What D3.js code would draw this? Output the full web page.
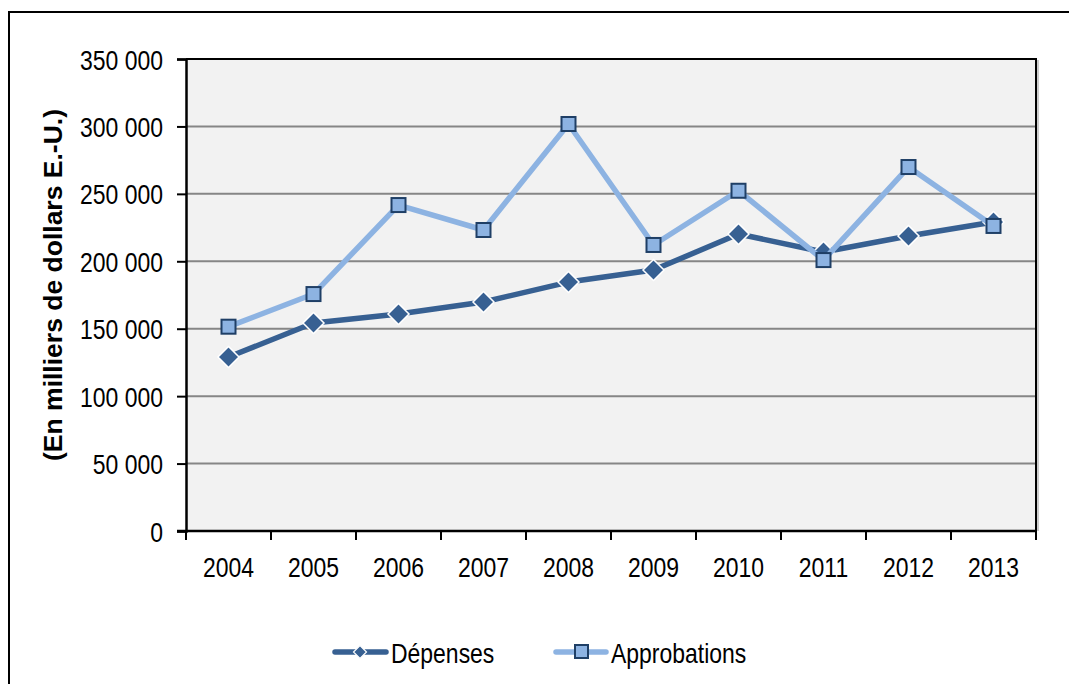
<!DOCTYPE html>
<html>
<head>
<meta charset="utf-8">
<script src="https://cdn.jsdelivr.net/npm/d3@7"></script>
<style>
  html, body { margin: 0; padding: 0; background: #ffffff; }
  svg { display: block; }
  text { font-family: "Liberation Sans", Arial, sans-serif; }
</style>
</head>
<body>
<svg id="chart" width="1069" height="684"></svg>
<script>
// Years on the category axis
const years = ["2004", "2005", "2006", "2007", "2008", "2009", "2010", "2011", "2012", "2013"];
// Expenditures (thousands of US dollars)
const depenses = [129000, 154200, 160900, 169800, 184600, 193500, 220200, 206900, 218700, 229100];
// Approvals (thousands of US dollars)
const approbations = [151500, 175700, 241700, 223200, 301800, 212100, 252300, 200900, 269900, 226200];
// Value axis ticks
const yTicks = [0, 50000, 100000, 150000, 200000, 250000, 300000, 350000];
const seriesNames = ["Dépenses", "Approbations"];

const svg = d3.select("#chart");
const W = 1069, H = 684;
const plot = { left: 186, top: 59, right: 1036, bottom: 531 };

const darkBlue = "#376092";
const lightBlue = "#8db3e2";
const navy = "#1f3f66";
const NARROW = 0.82;   // horizontal squeeze for a condensed look
const FS = 28;

// Outer frame (runs off the right and bottom of the canvas)
svg.append("path")
  .attr("d", `M9,${H + 5} L9,12 L${W + 5},12`)
  .attr("fill", "none").attr("stroke", "#000").attr("stroke-width", 2);

const x = d3.scaleBand().domain(years).range([plot.left, plot.right]).paddingInner(0).paddingOuter(0);
const y = d3.scaleLinear().domain([0, 350000]).range([plot.bottom, plot.top]);

// Plot background
svg.append("rect")
  .attr("x", plot.left).attr("y", plot.top)
  .attr("width", plot.right - plot.left).attr("height", plot.bottom - plot.top)
  .attr("fill", "#f2f2f2");

// Horizontal gridlines
svg.append("g")
  .selectAll("line")
  .data(yTicks.filter(v => v > 0 && v < 350000))
  .join("line")
  .attr("x1", plot.left).attr("x2", plot.right)
  .attr("y1", d => y(d)).attr("y2", d => y(d))
  .attr("stroke", "#868686").attr("stroke-width", 2);

// Plot border (top and right)
svg.append("path")
  .attr("d", `M${plot.left},${plot.top} L${plot.right},${plot.top} L${plot.right},${plot.bottom}`)
  .attr("fill", "none").attr("stroke", "#000").attr("stroke-width", 2);
svg.append("line")
  .attr("x1", plot.right + 2).attr("x2", plot.right + 2)
  .attr("y1", plot.top + 1).attr("y2", plot.bottom)
  .attr("stroke", "#9a9a9a").attr("stroke-width", 1);

// Y axis
const yAxis = d3.axisLeft(y)
  .tickValues(yTicks)
  .tickSize(9)
  .tickFormat(d => d3.format(",")(d).replace(/,/g, " "));
const gy = svg.append("g")
  .attr("transform", `translate(${plot.left},0)`)
  .call(yAxis);
gy.select(".domain").attr("stroke", "#000").attr("stroke-width", 2.5);
gy.selectAll(".tick line").attr("stroke", "#000").attr("stroke-width", 2);
gy.selectAll(".tick text")
  .attr("x", 0)
  .attr("transform", `translate(-23,0) scale(${NARROW},1)`)
  .attr("font-family", "'Liberation Sans', Arial, sans-serif")
  .attr("font-size", FS)
  .attr("fill", "#000")
  .attr("dy", "0.36em");

// X axis: ticks between categories, labels centred
const xTickPos = years.map(d => x(d)).concat([plot.right]);
svg.append("line")
  .attr("x1", plot.left - 9).attr("x2", plot.right)
  .attr("y1", plot.bottom).attr("y2", plot.bottom)
  .attr("stroke", "#000").attr("stroke-width", 2.5);
svg.append("g")
  .selectAll("line")
  .data(xTickPos)
  .join("line")
  .attr("x1", d => d).attr("x2", d => d)
  .attr("y1", plot.bottom).attr("y2", plot.bottom + 9)
  .attr("stroke", "#000").attr("stroke-width", 2);
svg.append("g")
  .selectAll("text")
  .data(years)
  .join("text")
  .attr("transform", d => `translate(${x(d) + x.bandwidth() / 2},577) scale(${NARROW},1)`)
  .attr("text-anchor", "middle")
  .attr("font-size", FS)
  .attr("fill", "#000")
  .text(d => d);

// Y axis title
svg.append("text")
  .attr("transform", "translate(62,285) rotate(-90)")
  .attr("text-anchor", "middle")
  .attr("font-weight", "bold")
  .attr("font-size", 26.5)
  .attr("fill", "#000")
  .text("(En milliers de dollars E.-U.)");

const cx = i => x(years[i]) + x.bandwidth() / 2;
const line = d3.line().x((d, i) => cx(i)).y(d => y(d));

const diamond = s => `M0,${-s} L${s},0 L0,${s} L${-s},0 Z`;

// Dépenses series
svg.append("path")
  .datum(depenses)
  .attr("d", line)
  .attr("fill", "none")
  .attr("stroke", darkBlue)
  .attr("stroke-width", 5.5)
  .attr("stroke-linejoin", "round");
svg.append("g")
  .selectAll("path")
  .data(depenses)
  .join("path")
  .attr("transform", (d, i) => `translate(${cx(i)},${y(d)})`)
  .attr("d", diamond(10.5))
  .attr("fill", darkBlue)
  .attr("stroke", "#fff")
  .attr("stroke-width", 1.5);

// Approbations series
svg.append("path")
  .datum(approbations)
  .attr("d", line)
  .attr("fill", "none")
  .attr("stroke", lightBlue)
  .attr("stroke-width", 5.5)
  .attr("stroke-linejoin", "round");
svg.append("g")
  .selectAll("rect")
  .data(approbations)
  .join("rect")
  .attr("x", (d, i) => cx(i) - 7)
  .attr("y", d => y(d) - 7)
  .attr("width", 14).attr("height", 14)
  .attr("fill", lightBlue)
  .attr("stroke", navy)
  .attr("stroke-width", 2);

// Legend
const legendY = 652;
const lg = svg.append("g");
lg.append("line")
  .attr("x1", 335).attr("x2", 386).attr("y1", legendY).attr("y2", legendY)
  .attr("stroke", darkBlue).attr("stroke-width", 5.5).attr("stroke-linecap", "round");
lg.append("path")
  .attr("transform", `translate(360,${legendY})`)
  .attr("d", diamond(6.5))
  .attr("fill", darkBlue).attr("stroke", "#fff").attr("stroke-width", 1.2);
lg.append("text")
  .attr("transform", `translate(391,${legendY + 11}) scale(${NARROW},1)`)
  .attr("font-size", FS).attr("fill", "#000")
  .text(seriesNames[0]);

lg.append("line")
  .attr("x1", 556).attr("x2", 606).attr("y1", legendY).attr("y2", legendY)
  .attr("stroke", lightBlue).attr("stroke-width", 5.5).attr("stroke-linecap", "round");
lg.append("rect")
  .attr("x", 575).attr("y", legendY - 7).attr("width", 13).attr("height", 13)
  .attr("fill", lightBlue).attr("stroke", navy).attr("stroke-width", 2);
lg.append("text")
  .attr("transform", `translate(611,${legendY + 11}) scale(${NARROW},1)`)
  .attr("font-size", FS).attr("fill", "#000")
  .text(seriesNames[1]);
</script>
</body>
</html>
